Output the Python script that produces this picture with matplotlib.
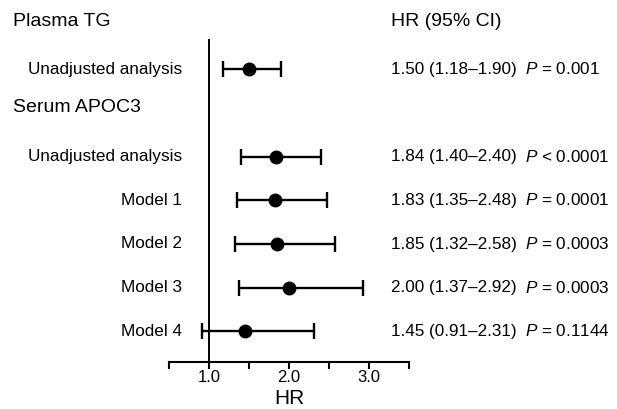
import matplotlib
matplotlib.use('Agg')
import matplotlib.pyplot as plt
import matplotlib.transforms as mtransforms

plt.rcParams['font.family'] = ['Liberation Sans', 'DejaVu Sans']
plt.rcParams['mathtext.fontset'] = 'custom'
plt.rcParams['mathtext.rm'] = 'Liberation Sans'
plt.rcParams['mathtext.it'] = 'Liberation Sans:italic'

# data
row_labels = ['Unadjusted analysis', 'Unadjusted analysis', 'Model 1', 'Model 2', 'Model 3', 'Model 4']
row_pos = [0, 2, 3, 4, 5, 6]
hr = [1.50, 1.84, 1.83, 1.85, 2.00, 1.45]
ci_low = [1.18, 1.40, 1.35, 1.32, 1.37, 0.91]
ci_high = [1.90, 2.40, 2.48, 2.58, 2.92, 2.31]
p_text = ['= 0.001', '< 0.0001', '= 0.0001', '= 0.0003', '= 0.0003', '= 0.1144']
headers = ['Plasma TG', 'Serum APOC3']
header_pos = [-1.08, 0.87]
x_ticks = [1.0, 2.0, 3.0]

W, H = 617, 409
fig = plt.figure(figsize=(W / 100, H / 100), dpi=100)
ax = fig.add_axes([169 / W, (H - 362) / H, 240 / W, (362 - 8) / H])
ax.set_xlim(0.5, 3.5)
ax.set_ylim(6.7, -1.4)

# reference line at HR = 1
ax.plot([1.0, 1.0], [-0.66, 6.7], color='black', lw=1.4, clip_on=False)

err = [[h - l for h, l in zip(hr, ci_low)], [u - h for h, u in zip(hr, ci_high)]]
ax.errorbar(hr, row_pos, xerr=err, fmt='o', color='black', ms=9,
            elinewidth=1.7, capsize=6, capthick=1.7, clip_on=False)

for s in ['top', 'right', 'left']:
    ax.spines[s].set_visible(False)
ax.spines['bottom'].set_linewidth(1.5)
ax.set_yticks([])
ax.set_xticks(x_ticks)
ax.set_xticklabels(['1.0', '2.0', '3.0'], fontsize=12)
ax.set_xticks([0.5, 1.5, 2.5, 3.5], minor=True)
ax.tick_params(axis='x', which='both', direction='out', length=5, width=1.5, pad=1)
ax.set_xlabel('HR', fontsize=15, labelpad=3)

tr = mtransforms.blended_transform_factory(fig.transFigure, ax.transData)

for name, y in zip(headers, header_pos):
    ax.text(13 / W, y, name, transform=tr, fontsize=14, va='center', ha='left')
ax.text(391 / W, header_pos[0], 'HR (95% CI)', transform=tr, fontsize=14,
        va='center', ha='left')

for i, y in enumerate(row_pos):
    ax.text(182 / W, y, row_labels[i], transform=tr, fontsize=12.3,
            va='center', ha='right')
    ci = '%.2f (%.2f\u2013%.2f)' % (hr[i], ci_low[i], ci_high[i])
    ax.text(391 / W, y, ci, transform=tr, fontsize=12.3, va='center', ha='left')
    ax.text(525 / W, y, r'$\it{P}$' + ' ' + p_text[i], transform=tr,
            fontsize=12.3, va='center', ha='left')

fig.savefig('out.png', dpi=100)
